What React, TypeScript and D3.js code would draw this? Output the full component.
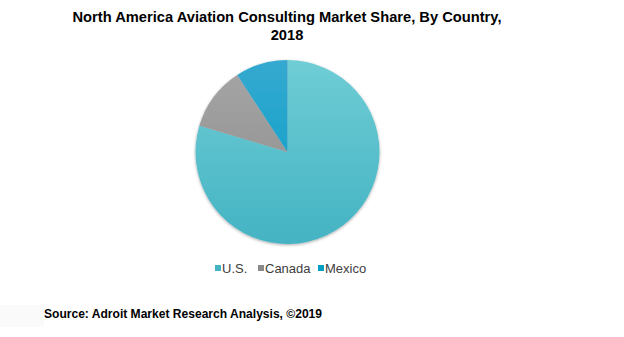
import React from "react";
import * as d3 from "d3";

const categories = ["U.S.", "Canada", "Mexico"];
const shares = [79.6, 11.2, 9.2];
const colorsTop = ["#6fcdd5", "#a6a6a6", "#35a9d0"];
const colorsBottom = ["#44b3c3", "#8a8a8a", "#049ec6"];

const titleLines = ["North America Aviation Consulting Market Share, By Country,", "2018"];
const sourceText = "Source: Adroit Market Research Analysis, ©2019";

export default function App() {
  const W = 624, H = 337;
  const cx = 287.5, cy = 152, r = 92;
  const pie = d3.pie<number>().sort(null).value((d) => d);
  const arcs = pie(shares);
  const arc = d3.arc<d3.PieArcDatum<number>>().innerRadius(0).outerRadius(r);
  const font = "'Liberation Sans', Arial, sans-serif";
  const legendX = [215, 258, 318];
  return (
    <svg width={W} height={H} style={{ position: "absolute", left: 0, top: 0, background: "#fff" }}>
      <defs>
        {categories.map((c, i) => (
          <linearGradient key={c} id={`g${i}`} gradientUnits="userSpaceOnUse" x1={0} y1={-r} x2={0} y2={r}>
            <stop offset="0%" stopColor={colorsTop[i]} />
            <stop offset="100%" stopColor={colorsBottom[i]} />
          </linearGradient>
        ))}
        <filter id="sh" x="-20%" y="-20%" width="140%" height="140%">
          <feGaussianBlur in="SourceAlpha" stdDeviation="1.5" />
          <feOffset dx="0" dy="1" result="b" />
          <feComponentTransfer><feFuncA type="linear" slope="0.35" /></feComponentTransfer>
          <feMerge><feMergeNode /><feMergeNode in="SourceGraphic" /></feMerge>
        </filter>
      </defs>
      <rect x={0} y={305} width={44} height={22} fill="#fafafa" />
      {titleLines.map((t, i) => (
        <text key={i} x={287} y={22 + i * 18} textAnchor="middle" fontFamily={font} fontWeight="bold" fontSize={14.7} fill="#000">{t}</text>
      ))}
      <g transform={`translate(${cx},${cy})`} filter="url(#sh)">
        {arcs.map((a, i) => (
          <path key={i} d={arc(a) || ""} fill={`url(#g${i})`} />
        ))}
      </g>
      {categories.map((c, i) => (
        <g key={c}>
          <rect x={legendX[i]} y={265} width={6} height={6} fill={colorsBottom[i]} />
          <text x={legendX[i] + 7} y={272.5} fontFamily={font} fontSize={13} fill="#404040">{c}</text>
        </g>
      ))}
      <text x={44} y={318} fontFamily={font} fontWeight="bold" fontSize={12} fill="#000" textLength={278} lengthAdjust="spacingAndGlyphs">{sourceText}</text>
    </svg>
  );
}
